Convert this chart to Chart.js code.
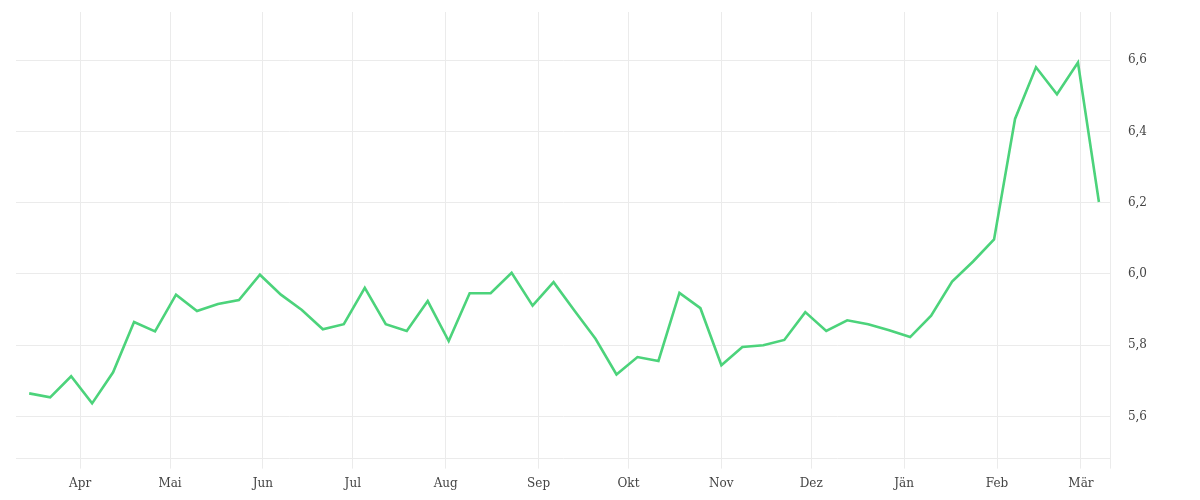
<!DOCTYPE html>
<html>
<head>
<meta charset="utf-8">
<script src="https://cdn.jsdelivr.net/npm/chart.js@4/dist/chart.umd.min.js"></script>
<style>
html,body{margin:0;padding:0;background:#fff;}
#wrap{width:1200px;height:500px;position:relative;}
</style>
</head>
<body>
<div id="wrap"><canvas id="c"></canvas></div>
<script>
// Weekly dates
const dates = [
  "2022-03-15","2022-03-22","2022-03-29",
  "2022-04-05","2022-04-12","2022-04-19","2022-04-26",
  "2022-05-03","2022-05-10","2022-05-17","2022-05-24","2022-05-31",
  "2022-06-07","2022-06-14","2022-06-21","2022-06-28",
  "2022-07-05","2022-07-12","2022-07-19","2022-07-26",
  "2022-08-02","2022-08-09","2022-08-16","2022-08-23","2022-08-30",
  "2022-09-06","2022-09-13","2022-09-20","2022-09-27",
  "2022-10-04","2022-10-11","2022-10-18","2022-10-25",
  "2022-11-01","2022-11-08","2022-11-15","2022-11-22","2022-11-29",
  "2022-12-06","2022-12-13","2022-12-20","2022-12-27",
  "2023-01-03","2023-01-10","2023-01-17","2023-01-24","2023-01-31",
  "2023-02-07","2023-02-14","2023-02-21","2023-02-28",
  "2023-03-07"
];
const values = [
  5.665,5.654,5.713,
  5.637,5.724,5.865,5.839,
  5.942,5.896,5.916,5.927,5.998,
  5.942,5.899,5.845,5.859,
  5.961,5.859,5.840,5.924,
  5.812,5.946,5.946,6.003,5.911,
  5.977,5.897,5.818,5.718,
  5.767,5.756,5.947,5.904,
  5.744,5.795,5.800,5.815,5.893,
  5.840,5.870,5.859,5.842,
  5.823,5.883,5.979,6.035,6.097,
  6.435,6.580,6.504,6.593,
  6.202
];
const monthStarts = ["2022-04-01","2022-05-01","2022-06-01","2022-07-01","2022-08-01","2022-09-01",
                     "2022-10-01","2022-11-01","2022-12-01","2023-01-01","2023-02-01","2023-03-01"];
const monthLabels = ["Apr","Mai","Jun","Jul","Aug","Sep","Okt","Nov","Dez","Jän","Feb","Mär"];
const yTicks = [5.6,5.8,6.0,6.2,6.4,6.6];

const DAY = 86400000;
const origin = Date.parse("2022-04-01T00:00:00Z");
const toDay = s => (Date.parse(s + "T00:00:00Z") - origin) / DAY;
const pts = dates.map((d,i) => ({x: toDay(d), y: values[i]}));
const monthDays = monthStarts.map(toDay);

const X_MIN = -21.4, X_MAX = 344.0;
const gridColor = '#ebebeb';
const fontFamily = '"DejaVu Serif", serif';

new Chart(document.getElementById('c'), {
  type: 'line',
  data: {
    datasets: [{
      data: pts,
      borderColor: '#4cd37b',
      borderWidth: 2.6,
      pointRadius: 0,
      tension: 0,
      fill: false
    }]
  },
  options: {
    responsive: true,
    maintainAspectRatio: false,
    animation: false,
    layout: {padding: {left: 16, right: 36, top: 12, bottom: 1}},
    plugins: {legend: {display: false}, tooltip: {enabled: false}},
    scales: {
      x: {
        type: 'linear',
        min: X_MIN,
        max: X_MAX,
        afterBuildTicks: s => {
          s.ticks = monthDays.map(v => ({value: v})).concat([{value: X_MAX}]);
        },
        afterFit: s => { s.paddingLeft = 0; s.paddingRight = 0; },
        grid: {color: gridColor, tickLength: 10, drawTicks: true},
        border: {display: true, color: gridColor},
        ticks: {
          autoSkip: false, maxRotation: 0, padding: 8,
          color: '#444', font: {family: fontFamily, size: 12},
          callback: (v) => {
            const i = monthDays.indexOf(v);
            return i >= 0 ? monthLabels[i] : '';
          }
        }
      },
      y: {
        position: 'right',
        min: 5.482,
        max: 6.735,
        afterBuildTicks: s => { s.ticks = yTicks.map(v => ({value: v})); },
        afterFit: s => { s.paddingTop = 0; s.paddingBottom = 0; },
        grid: {color: gridColor, drawTicks: false},
        border: {display: false},
        ticks: {
          padding: 17,
          color: '#444', font: {family: fontFamily, size: 12},
          callback: v => v.toFixed(1).replace('.', ',')
        }
      }
    }
  }
});
</script>
</body>
</html>
